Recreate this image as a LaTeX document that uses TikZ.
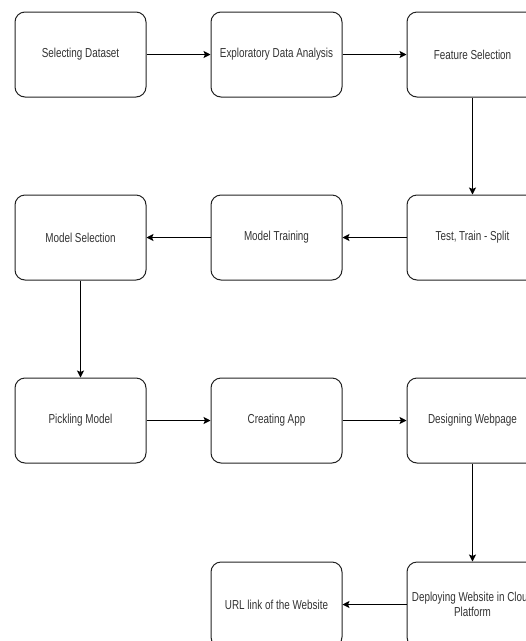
\documentclass[tikz,border=0pt]{standalone}
\usepackage{fontspec}
\setmainfont[FakeStretch=0.76]{Liberation Sans}
\usetikzlibrary{arrows.meta}
\definecolor{txt}{HTML}{333333}
\definecolor{edge}{HTML}{222222}
\tikzset{
  stepbox/.style={draw=edge, line width=1pt, rounded corners=10pt,
    minimum width=131pt, minimum height=85pt, inner sep=0pt,
    align=center, text=txt, font=\fontsize{13}{15}\selectfont},
  flow/.style={draw=black, line width=1pt,
    -{Stealth[length=7pt,width=7pt,inset=1.5pt]}}
}
\begin{document}
\begin{tikzpicture}[x=1pt,y=-1pt]
\useasboundingbox (0,0) rectangle (526,641);
\clip (0,0) rectangle (526,641);
\fill[white] (0,0) rectangle (526,641);
\node[stepbox] (a) at (80.5,54.5) {Selecting Dataset};
\node[stepbox] (b) at (276.5,54.5) {Exploratory Data Analysis};
\node[stepbox] (c) at (472.5,54.5) {Feature Selection};
\node[stepbox] (d) at (472.5,237.5) {Test, Train - Split};
\node[stepbox] (e) at (276.5,237.5) {Model Training};
\node[stepbox] (f) at (80.5,237.5) {Model Selection};
\node[stepbox] (g) at (80.5,420.5) {Pickling Model};
\node[stepbox] (h) at (276.5,420.5) {Creating App};
\node[stepbox] (i) at (472.5,420.5) {Designing Webpage};
\node[stepbox] (j) at (472.5,604.5) {Deploying Website in Cloud\\Platform};
\node[stepbox] (k) at (276.5,604.5) {URL link of the Website};
\draw[flow] (a) -- (b);
\draw[flow] (b) -- (c);
\draw[flow] (c) -- (d);
\draw[flow] (d) -- (e);
\draw[flow] (e) -- (f);
\draw[flow] (f) -- (g);
\draw[flow] (g) -- (h);
\draw[flow] (h) -- (i);
\draw[flow] (i) -- (j);
\draw[flow] (j) -- (k);
\end{tikzpicture}
\end{document}
